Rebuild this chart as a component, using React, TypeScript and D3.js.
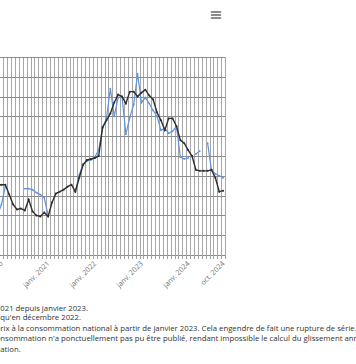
import React from 'react';
import * as d3 from 'd3';

const MONTHS = ['janv.', 'févr.', 'mars', 'avr.', 'mai', 'juin', 'juil.', 'août', 'sept.', 'oct.', 'nov.', 'déc.'];
const FIRST_YEAR = 2019;
const FIRST_MONTH = 11; // déc. 2019
const N_MONTHS = 59; // déc. 2019 -> oct. 2024
const categories: string[] = [];
for (let k = 0; k < N_MONTHS; k++) {
  const m = (FIRST_MONTH + k) % 12;
  const yr = FIRST_YEAR + Math.floor((FIRST_MONTH + k) / 12);
  categories.push(`${MONTHS[m]} ${yr}`);
}
const labeledCategories = ['janv. 2020', 'janv. 2021', 'janv. 2022', 'janv. 2023', 'janv. 2024', 'oct. 2024'];
const yTicks = [-4, -2, 0, 2, 4, 6, 8, 10, 12, 14, 16];

// national series (dark line), déc. 2019 -> oct. 2024
const nationalValues: number[] = [
  3.1,
  3.1, 3.1, 2.1, 1.1, 0.6, 0.7, 0.5, 1.6, 0.4, 0.0, -0.1, 0.3,
  -0.1, 1.3, 2.2, 2.4, 2.6, 2.9, 3.1, 2.4, 3.8, 5.1, 5.6, 5.7,
  5.8, 6.0, 8.9, 9.6, 10.3, 11.4, 12.2, 12.0, 11.3, 12.5, 12.5, 12.0,
  12.4, 12.7, 12.1, 11.7, 10.4, 9.6, 8.6, 9.8, 9.8, 9.0, 7.6, 7.3,
  6.6, 6.0, 4.6, 4.5, 4.5, 4.5, 4.6, 3.8, 2.4, 2.5,
];

// second series (blue line), with gaps
const otherValues: (number | null)[] = [
  0.0,
  1.1, 2.9, null, null, null, null, 2.7, 2.7, 2.6, 2.3, 2.1, 1.8,
  0.0, null, null, null, null, null, null, 2.4, 4.1, 5.2, 5.5, 5.6,
  5.9, 6.6, 8.8, 9.8, 12.8, 10.0, 11.9, 12.0, 8.2, 9.9, 11.2, 14.3,
  11.4, 11.9, 11.3, 10.6, 10.0, 8.6, 8.8, 8.3, 8.5, 9.0, 5.9, 5.7,
  5.8, null, 6.2, 6.5, null, 7.3, 4.6, 4.2, 4.0, 3.8,
];

const footnotes = [
  { hidden: '(1) Indice base 2', text: '021 depuis janvier 2023.' },
  { hidden: '(2) Indice base 2014 jus', text: "qu'en décembre 2022." },
  { hidden: "Note : passage à l'indice des p", text: 'rix à la consommation national à partir de janvier 2023. Cela engendre de fait une rupture de série.' },
  { hidden: "L'indice des prix à la co", text: "nsommation n'a ponctuellement pas pu être publié, rendant impossible le calcul du glissement annuel." },
  { hidden: "de l'infl", text: 'ation.' },
];

const FOOT_SIZE = 7.75;
const FOOT_FONT = `${FOOT_SIZE}px "Open Sans"`;
function measure(t: string): number {
  if (typeof document === 'undefined') return 0;
  const c = document.createElement('canvas');
  const ctx = c.getContext('2d');
  if (!ctx) return 0;
  ctx.font = FOOT_FONT;
  return ctx.measureText(t).width;
}

const PLOT_TOP = 57;
const PLOT_BOTTOM = 255;
const PLOT_LEFT = -4.4;
const PLOT_RIGHT = 225.1;

export default function App() {
  const x = d3.scaleBand<string>().domain(categories).range([PLOT_LEFT, PLOT_RIGHT]).paddingInner(0).paddingOuter(0);
  const y = d3.scaleLinear().domain([yTicks[0], yTicks[yTicks.length - 1]]).range([PLOT_BOTTOM, PLOT_TOP]);
  const cx = (c: string) => (x(c) as number) + x.bandwidth() / 2;
  const crisp = (v: number) => Math.round(v) + 0.5;

  const boundaries = categories.map((c) => x(c) as number).concat([PLOT_RIGHT]);

  type P = { c: string; v: number | null };
  const line = d3
    .line<P>()
    .defined((d) => d.v !== null)
    .x((d) => cx(d.c))
    .y((d) => y(d.v as number));

  const natPts: P[] = categories.map((c, i) => ({ c, v: nationalValues[i] }));
  const othPts: P[] = categories.map((c, i) => ({ c, v: otherValues[i] }));

  const blue = '#5f95dd';
  const dark = '#2e2e2e';

  return (
    <svg
      width={356}
      height={364}
      style={{ position: 'absolute', left: 0, top: 0, fontFamily: '"Open Sans", sans-serif' }}
    >
      <rect x={0} y={0} width={356} height={364} fill="#ffffff" />
      {/* vertical grid */}
      {boundaries.map((b, i) => (
        <line key={'vg' + i} x1={crisp(b)} x2={crisp(b)} y1={PLOT_TOP} y2={PLOT_BOTTOM} stroke="#a6a6a6" strokeWidth={1} />
      ))}
      {/* horizontal grid */}
      {yTicks.map((t) => (
        <line key={'hg' + t} x1={PLOT_LEFT} x2={PLOT_RIGHT} y1={crisp(y(t))} y2={crisp(y(t))} stroke="#8c8c8c" strokeWidth={1} />
      ))}
      {/* x axis ticks */}
      {boundaries.map((b, i) => (
        <line key={'xt' + i} x1={crisp(b)} x2={crisp(b)} y1={PLOT_BOTTOM} y2={PLOT_BOTTOM + 4} stroke="#a0a0a0" strokeWidth={1} />
      ))}
      {labeledCategories.map((c) => (
        <text
          key={'xl' + c}
          transform={`translate(${cx(c) + 2},${PLOT_BOTTOM + 9}) rotate(-45)`}
          textAnchor="end"
          fontSize={7.2}
          fill="#707070"
        >
          {c}
        </text>
      ))}
      {/* series */}
      <path d={line(othPts) || ''} fill="none" stroke={blue} strokeWidth={1.2} />
      {othPts.filter((p) => p.v !== null).map((p) => (
        <circle key={'ob' + p.c} cx={cx(p.c)} cy={y(p.v as number)} r={0.9} fill={blue} />
      ))}
      <path d={line(natPts) || ''} fill="none" stroke={dark} strokeWidth={1.4} />
      {natPts.map((p) => (
        <circle key={'nb' + p.c} cx={cx(p.c)} cy={y(p.v as number)} r={1} fill={dark} />
      ))}
      {/* menu button */}
      {[12, 15, 18].map((yy) => (
        <line key={'m' + yy} x1={211.5} x2={220.5} y1={yy} y2={yy} stroke="#666666" strokeWidth={1.6} strokeLinecap="round" />
      ))}
      {/* footnotes */}
      {footnotes.map((f, i) => {
        const baselines = [310.5, 320, 331, 341, 351.5];
        return (
          <text key={'fn' + i} x={0.3 - measure(f.hidden)} y={baselines[i]} fontSize={FOOT_SIZE} fill="#333333">
            {f.hidden + f.text}
          </text>
        );
      })}
    </svg>
  );
}
